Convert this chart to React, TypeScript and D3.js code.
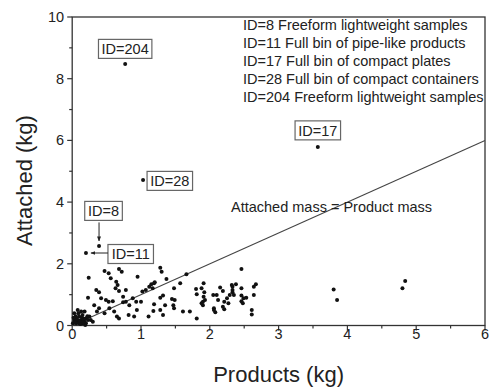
import React from "react";
import * as d3 from "d3";

const W = 489;
const H = 387;
const M = { left: 72.2, right: 485, top: 17, bottom: 325.5 };

const xTicks = [0, 1, 2, 3, 4, 5, 6];
const yTicks = [0, 2, 4, 6, 8, 10];
const xMinor = [0.5, 1.5, 2.5, 3.5, 4.5, 5.5];
const yMinor = [1, 3, 5, 7, 9];

const legendLines = [
  "ID=8 Freeform lightweight samples",
  "ID=11 Full bin of pipe-like products",
  "ID=17 Full bin of compact plates",
  "ID=28 Full bin of compact containers",
  "ID=204 Freeform lightweight samples",
];

// products (kg), attached (kg)
const productsKg = [
  0.03, 0.06, 0.08, 0.10, 0.13, 0.15, 0.18, 0.20, 0.08, 0.13, 0.03, 0.01, 0.06, 0.10, 0.15, 0.20, 0.23, 0.25, 0.27, 0.18, 0.30,
  0.05, 0.12, 0.17, 0.09, 0.22, 0.04, 0.14, 0.02, 0.11, 0.19, 0.07, 0.16,
  0.24, 0.47, 0.53, 0.68, 0.72, 0.56, 0.64, 0.66, 0.63, 0.68, 0.78, 0.95, 0.35, 0.39, 0.23, 0.42, 0.49, 0.53, 0.59, 0.32, 0.39,
  0.36, 0.47, 0.54, 0.61, 0.65, 0.68, 0.74, 0.78, 0.83, 0.88, 0.93, 0.94, 1.02, 1.07, 1.12, 1.17, 1.15, 1.19, 1.11, 0.82, 0.90,
  1.00, 0.74,
  1.28, 1.30, 1.37, 1.20, 1.66, 1.57, 1.48, 1.32, 1.28, 1.45, 1.49, 1.19, 1.35, 1.47, 1.48, 1.18, 1.28, 1.32, 1.61, 1.71, 1.81,
  1.80, 1.81, 1.88, 1.92, 1.91, 1.90, 1.90, 1.93, 2.05, 2.10, 2.15, 2.19, 2.12, 2.06, 2.08, 2.19, 2.21, 2.25, 2.29, 2.27, 2.33,
  2.38, 2.33,
  2.46, 2.46, 2.33, 2.35, 2.46, 2.49, 2.53, 2.46, 2.48, 2.64, 2.67, 2.64, 2.61, 2.61,
  1.91, 1.88, 2.06, 2.21, 2.32,
  3.80, 3.85, 4.80, 4.84,
  0.77, 1.03, 3.57, 0.39, 0.20,
];
const attachedKg = [
  0.40, 0.23, 0.12, 0.29, 0.18, 0.34, 0.12, 0.23, 0.50, 0.45, 0.18, 0.07, 0.07, 0.07, 0.07, 0.07, 0.18, 0.29, 0.18, 0.45, 0.12,
  0.30, 0.05, 0.22, 0.40, 0.30, 0.12, 0.27, 0.25, 0.15, 0.02, 0.20, 0.10,
  1.55, 1.77, 1.69, 1.83, 1.74, 1.53, 1.42, 1.31, 1.21, 1.12, 1.15, 1.58, 1.15, 1.08, 0.90, 0.88, 0.83, 0.77, 0.79, 0.66, 0.56,
  0.45, 0.40, 0.56, 0.45, 0.29, 0.23, 0.75, 0.77, 0.66, 0.88, 0.77, 0.50, 1.10, 1.15, 1.26, 1.21, 1.34, 1.37, 0.29, 0.34, 0.29,
  0.77, 0.93,
  1.87, 1.74, 1.51, 1.40, 1.66, 1.37, 1.21, 0.97, 0.90, 0.86, 0.83, 0.69, 0.66, 0.66, 0.56, 0.47, 0.50, 0.34, 0.45, 0.45, 0.23,
  1.18, 1.01, 1.21, 1.08, 0.93, 0.77, 0.66, 0.83, 0.99, 0.99, 1.23, 1.12, 0.83, 0.56, 0.43, 0.61, 0.53, 0.88, 0.99, 0.72, 1.26,
  1.34, 1.15,
  1.83, 1.21, 1.08, 0.99, 0.97, 0.88, 0.90, 0.79, 0.72, 0.99, 1.34, 1.26, 0.50, 0.36,
  1.37, 0.72, 0.50, 0.77, 1.31,
  1.17, 0.83, 1.21, 1.44,
  8.48, 4.72, 5.79, 2.58, 2.35,
];

const annoIds = ["ID=204", "ID=28", "ID=17", "ID=8", "ID=11"];
const annoX = [0.77, 1.03, 3.57, 0.39, 0.2];
const annoY = [8.48, 4.72, 5.79, 2.58, 2.35];

const FONT = "'Liberation Sans', Arial, sans-serif";
const TXT = "#222";
const AX = "#333";

export default function App() {
  const x = d3.scaleLinear().domain([0, 6]).range([M.left, M.right]);
  const y = d3.scaleLinear().domain([0, 10]).range([M.bottom, M.top]);
  const pts = productsKg.map((v, i) => [v, attachedKg[i]]);
  const line = d3.line<number>().x((d) => x(d)).y((d) => y(d));

  const boxW = (s: string) => s.length * 7.9 + 6;
  const boxH = 19;

  // annotation geometry relative to point
  const annos = annoIds.map((id, i) => {
    const px = x(annoX[i]);
    const py = y(annoY[i]);
    const w = boxW(id);
    let cx = px, cy = py - 15;
    if (id === "ID=28") { cx = px + 4 + w / 2; cy = py + 1; }
    if (id === "ID=17") { cx = px; cy = py - 16.5; }
    if (id === "ID=8") { cx = px + 4.5; cy = py - 35; }
    if (id === "ID=11") { cx = px + 22 + w / 2; cy = py + 1; }
    return { id, px, py, w, cx, cy };
  });

  return (
    <svg width={W} height={H} style={{ position: "absolute", left: 0, top: 0, background: "#fff" }}>
      <defs>
        <marker id="ah" viewBox="0 0 10 10" refX="9" refY="5" markerWidth="5" markerHeight="5" orient="auto">
          <path d="M0,1 L10,5 L0,9 z" fill="#222" />
        </marker>
      </defs>
      {/* frame */}
      <rect x={M.left} y={M.top} width={M.right - M.left} height={M.bottom - M.top} fill="none" stroke={AX} strokeWidth={1.3} />
      {/* y ticks */}
      {yTicks.map((t) => (
        <g key={"yt" + t}>
          <line x1={M.left - 5} x2={M.left} y1={y(t)} y2={y(t)} stroke={AX} strokeWidth={1.2} />
          <text x={M.left - 8} y={y(t)} dy="0.35em" textAnchor="end" fontFamily={FONT} fontSize={14.5} fill={TXT}>{t}</text>
        </g>
      ))}
      {yMinor.map((t) => (
        <line key={"ym" + t} x1={M.left - 3} x2={M.left} y1={y(t)} y2={y(t)} stroke={AX} strokeWidth={1.2} />
      ))}
      {xTicks.map((t) => (
        <g key={"xt" + t}>
          <line x1={x(t)} x2={x(t)} y1={M.bottom} y2={M.bottom + 5} stroke={AX} strokeWidth={1.2} />
          <text x={x(t)} y={M.bottom + 13} textAnchor="middle" fontFamily={FONT} fontSize={14.5} fill={TXT}>{t}</text>
        </g>
      ))}
      {xMinor.map((t) => (
        <line key={"xm" + t} x1={x(t)} x2={x(t)} y1={M.bottom} y2={M.bottom + 3} stroke={AX} strokeWidth={1.2} />
      ))}
      {/* axis titles */}
      <text x={x(3)} y={382} textAnchor="middle" fontFamily={FONT} fontSize={22} fill={TXT}>Products (kg)</text>
      <text transform={`translate(31.5,180.5) rotate(-90)`} textAnchor="middle" fontFamily={FONT} fontSize={22} fill={TXT}>Attached (kg)</text>
      {/* y = x line */}
      <path d={line([0, 6]) ? (line as any)([0, 6]) : ""} stroke="#444" strokeWidth={1.1} fill="none" />
      <text x={231} y={212} fontFamily={FONT} fontSize={14.5} fill={TXT}>Attached mass = Product mass</text>
      {/* legend text */}
      {legendLines.map((s, i) => (
        <text key={s} x={243} y={25 + i * 18} dy="0.35em" fontFamily={FONT} fontSize={14.5} fill={TXT}>{s}</text>
      ))}
      {/* points */}
      {pts.map((p, i) => (
        <circle key={i} cx={x(p[0])} cy={y(p[1])} r={2} fill="#111" />
      ))}
      {/* annotations */}
      {annos.map((a) => (
        <g key={a.id}>
          <rect x={a.cx - a.w / 2} y={a.cy - boxH / 2} width={a.w} height={boxH} fill="#fff" stroke="#666" strokeWidth={1.2} />
          <text x={a.cx} y={a.cy} dy="0.36em" textAnchor="middle" fontFamily={FONT} fontSize={14.5} fill={TXT}>{a.id}</text>
          {a.id === "ID=8" && (
            <line x1={a.px} x2={a.px} y1={a.cy + boxH / 2 + 2} y2={a.py - 5} stroke="#222" strokeWidth={1} markerEnd="url(#ah)" />
          )}
          {a.id === "ID=11" && (
            <line x1={a.cx - a.w / 2} x2={a.px + 5} y1={a.py} y2={a.py} stroke="#222" strokeWidth={1} markerEnd="url(#ah)" />
          )}
        </g>
      ))}
    </svg>
  );
}
